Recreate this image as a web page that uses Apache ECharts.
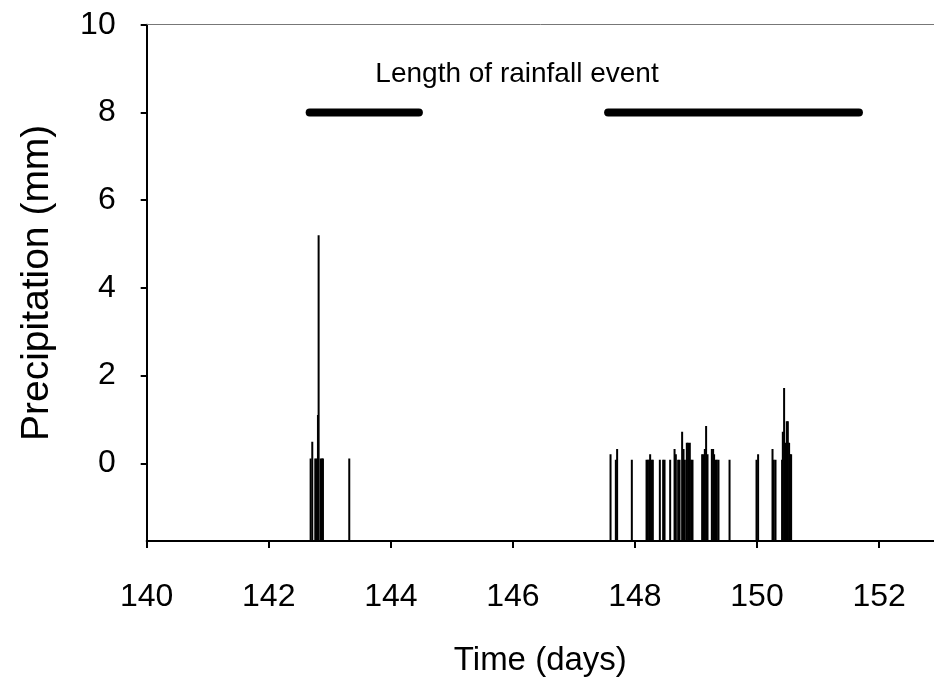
<!DOCTYPE html>
<html>
<head>
<meta charset="utf-8">
<script src="https://cdn.jsdelivr.net/npm/echarts@6/dist/echarts.min.js"></script>
<style>
  html, body { margin: 0; padding: 0; background: #fff; }
  #chart { width: 934px; height: 685px; }
</style>
</head>
<body>
<div id="chart"></div>
<script>
// tick labels
var xTicks = [140, 142, 144, 146, 148, 150, 152]
var yTicks = [0, 2, 4, 6, 8, 10]

// rain gauge records (day of year, mm)
var rainDays = [
  142.686, 142.713, 142.762, 142.785, 142.806, 142.817, 142.850, 142.871, 142.888, 143.319,
  147.600, 147.687, 147.708, 147.949, 148.190, 148.211, 148.233, 148.249, 148.272, 148.293,
  148.408, 148.462, 148.485, 148.577, 148.649, 148.670, 148.708, 148.731, 148.773, 148.796,
  148.817, 148.850, 148.871, 148.899, 148.921, 148.943, 149.101, 149.124, 149.145, 149.166,
  149.189, 149.260, 149.281, 149.297, 149.320, 149.342, 149.369, 149.550, 149.992, 150.018,
  150.254, 150.275, 150.303, 150.411, 150.423, 150.444, 150.467, 150.488, 150.505, 150.526,
  150.542, 150.559
]
var rainMm = [
  0.11, 0.49, 0.11, 0.11, 1.10, 5.20, 0.11, 0.11, 0.11, 0.11,
  0.21, 0.08, 0.33, 0.08, 0.08, 0.08, 0.08, 0.21, 0.08, 0.08,
  0.08, 0.08, 0.08, 0.08, 0.33, 0.21, 0.08, 0.08, 0.72, 0.33,
  0.08, 0.47, 0.47, 0.47, 0.08, 0.08, 0.21, 0.21, 0.33, 0.85,
  0.21, 0.33, 0.33, 0.21, 0.08, 0.08, 0.08, 0.08, 0.08, 0.21,
  0.33, 0.08, 0.08, 0.08, 0.72, 1.72, 0.47, 0.96, 0.96, 0.47,
  0.21, 0.21
]

// length of rainfall event bars
var eventStart = [142.67, 147.56]
var eventEnd = [144.46, 151.67]
var eventLevel = 8

var yMin = -1.77
var font = "'Liberation Sans', Arial, sans-serif"

var rainData = rainDays.map(function (d, i) { return [d, rainMm[i]] })

var series = [{
  type: 'custom',
  data: rainData,
  clip: true,
  renderItem: function (params, api) {
    var top = api.coord([api.value(0), api.value(1)])
    var base = api.coord([api.value(0), yMin])
    return {
      type: 'rect',
      shape: { x: top[0] - 1, y: top[1], width: 2, height: base[1] - top[1] },
      style: { fill: '#000' }
    }
  },
  z: 3
}]
eventStart.forEach(function (s, i) {
  series.push({
    type: 'line',
    data: [[s, eventLevel], [eventEnd[i], eventLevel]],
    symbol: 'none',
    silent: true,
    lineStyle: { color: '#000', width: 8, cap: 'round' },
    z: 4
  })
})

var chart = echarts.init(document.getElementById('chart'))
chart.setOption({
  animation: false,
  backgroundColor: '#fff',
  title: {
    text: 'Length of rainfall event',
    left: 512,
    top: 55,
    textAlign: 'center',
    textStyle: { fontFamily: font, fontSize: 28, fontWeight: 'normal', color: '#000' }
  },
  grid: { left: 146.7, right: 0, top: 24.7, bottom: 144 },
  xAxis: [{
    type: 'value',
    min: 140,
    max: 152.9,
    name: 'Time (days)',
    nameLocation: 'middle',
    nameGap: 103,
    nameTextStyle: { fontFamily: font, fontSize: 33, color: '#000' },
    axisLine: { onZero: false, lineStyle: { color: '#000', width: 2 } },
    axisTick: { customValues: xTicks, length: 7, lineStyle: { color: '#000', width: 2 } },
    axisLabel: { customValues: xTicks, margin: 40, fontFamily: font, fontSize: 32, color: '#000' },
    splitLine: { show: false }
  }, {
    type: 'value',
    position: 'top',
    min: 140,
    max: 152.9,
    axisLine: { show: true, onZero: false, lineStyle: { color: '#777', width: 1 } },
    axisTick: { show: false },
    axisLabel: { show: false },
    splitLine: { show: false }
  }],
  yAxis: {
    type: 'value',
    min: yMin,
    max: 10,
    name: 'Precipitation (mm)',
    nameLocation: 'middle',
    nameGap: 90,
    nameTextStyle: { fontFamily: font, fontSize: 39, color: '#000' },
    axisLine: { show: true, onZero: false, lineStyle: { color: '#000', width: 2 } },
    axisTick: { show: true, customValues: yTicks, length: 6, lineStyle: { color: '#000', width: 2 } },
    axisLabel: { customValues: yTicks, margin: 31, fontFamily: font, fontSize: 32, color: '#000' },
    splitLine: { show: false }
  },
  series: series
})
</script>
</body>
</html>
